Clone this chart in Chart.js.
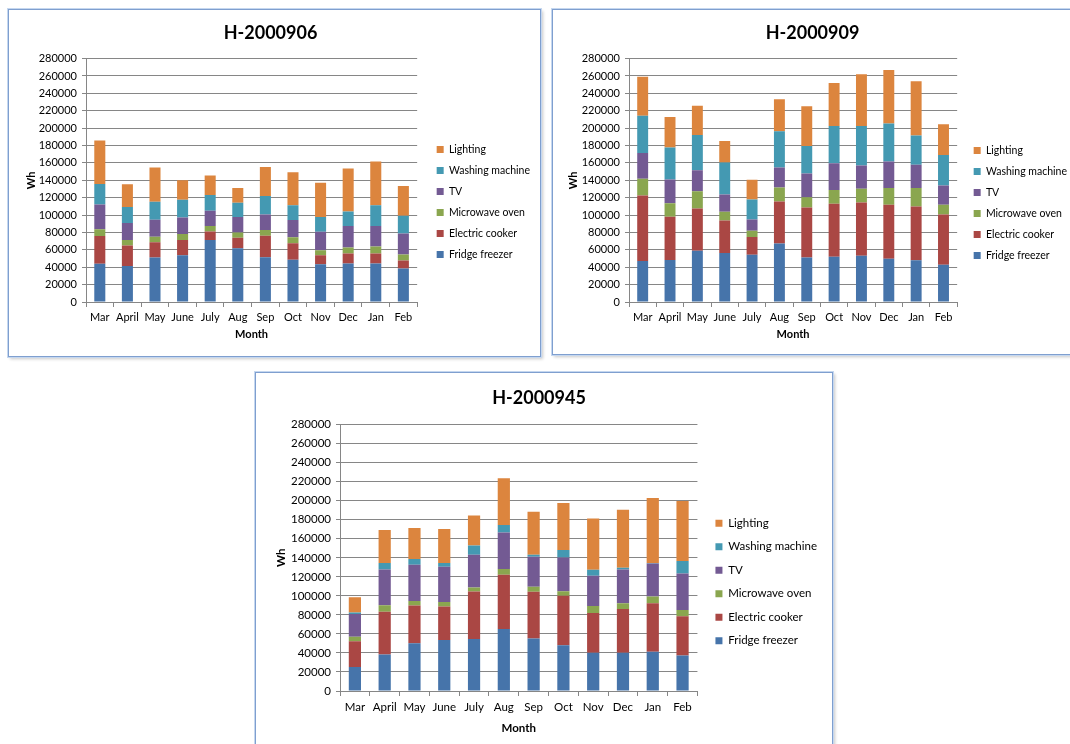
<!DOCTYPE html>
<html>
<head>
<meta charset="utf-8">
<script src="https://cdn.jsdelivr.net/npm/chart.js@4/dist/chart.umd.min.js"></script>
<style>
    body { margin: 0; background: #fff; overflow: hidden; width: 1070px; height: 744px; position: relative; }
    .panel { position: absolute; background: #fff; border: 1px solid #7f9fcf; box-shadow: 0 0 0 1px #c5d7ef, 2px 2px 3px #c8c8c8; }
    .panel canvas { position: absolute; left: 1px; top: 1px; }
</style>
</head>
<body>

<div class="panel" id="p1" style="left:8px; top:9px; width:531px; height:346px;"><canvas id="grafico-906"></canvas></div>
<div class="panel" id="p2" style="left:552px; top:9px; width:531px; height:344px;"><canvas id="grafico-909"></canvas></div>
<div class="panel" id="p3" style="left:255px; top:372px; width:576px; height:380px;"><canvas id="grafico-945"></canvas></div>

<script>
var mesi = ['Mar', 'April', 'May', 'June', 'July', 'Aug', 'Sep', 'Oct', 'Nov', 'Dec', 'Jan', 'Feb'];
var nomiSerie = ['Fridge freezer', 'Electric cooker', 'Microwave oven', 'TV', 'Washing machine', 'Lighting'];
var yTicks = [0, 20000, 40000, 60000, 80000, 100000, 120000, 140000, 160000, 180000, 200000, 220000, 240000, 260000, 280000];

// H-2000906
var fridge906 = [44000, 41500, 51200, 53800, 71200, 61900, 51500, 48500, 43500, 44200, 44200, 38500];
var cooker906 = [32000, 23500, 17600, 17400, 10000, 11900, 24700, 19200, 10300, 11600, 11600, 9200];
var microwave906 = [7700, 6200, 6200, 6900, 6100, 6200, 6500, 6900, 5800, 6900, 8000, 6900];
var tv906 = [28500, 19600, 19600, 19200, 17700, 17700, 18100, 19600, 21200, 24600, 23500, 24200];
var washing906 = [23500, 18400, 20800, 20400, 18100, 16500, 21100, 17000, 16900, 16900, 23900, 20400];
var lighting906 = [50000, 26200, 39200, 22300, 22300, 17000, 33500, 38000, 39600, 49300, 50300, 34300];

// H-2000909
var fridge909 = [47100, 48200, 59000, 56300, 54400, 67400, 51300, 52100, 53200, 49800, 47900, 42900];
var cooker909 = [75400, 49800, 48600, 37500, 20300, 48200, 57400, 60900, 61300, 62000, 62000, 57800];
var microwave909 = [19200, 15700, 19900, 10000, 7200, 16100, 11900, 15700, 15700, 19200, 21100, 11100];
var tv909 = [29800, 27200, 24100, 19900, 13100, 23000, 27200, 31000, 26800, 30600, 26800, 22200];
var washing909 = [42900, 36800, 40600, 36700, 22900, 41700, 31800, 42900, 45600, 43600, 33700, 35200];
var lighting909 = [44800, 35200, 33700, 24900, 22600, 36800, 45500, 49300, 59300, 61700, 62400, 35300];

// H-2000945
var fridge945 = [25300, 38400, 50300, 53500, 54600, 65100, 55300, 48200, 40100, 40100, 41200, 37300];
var cooker945 = [27100, 45000, 39500, 35200, 49900, 57000, 48900, 51800, 41900, 46100, 51000, 41200];
var microwave945 = [4600, 6700, 4900, 4900, 4300, 6000, 5300, 4900, 7400, 6000, 7100, 6700];
var tv945 = [24000, 37700, 38000, 37000, 34500, 38400, 31700, 35500, 31700, 35600, 34800, 38400];
var washing945 = [1400, 6700, 6000, 3900, 9500, 8100, 2100, 7800, 6300, 1700, 500, 13000];
var lighting945 = [16200, 34800, 32700, 35900, 31600, 48900, 45000, 49300, 53900, 60900, 68300, 63000];

var colori = ['#4674aa', '#aa4744', '#8aa64f', '#735a93', '#4499b2', '#dc853e'];
var font = 'Lato, "Open Sans", sans-serif';

// sposta la legenda dopo il layout (come in Excel, un po' piu' in basso e a destra)
var spostaLegenda = {
    id: 'spostaLegenda',
    afterLayout: function (chart, args, opts) {
        var l = chart.legend;
        if (!l) return;
        l.left += opts.dx; l.right += opts.dx;
        l.top += opts.dy; l.bottom += opts.dy;
    }
};

function graficoBarre(id, titolo, serie, dim) {
    var canvas = document.getElementById(id);
    canvas.width = dim.w;
    canvas.height = dim.h;
    canvas.style.width = dim.w + 'px';
    canvas.style.height = dim.h + 'px';

    var datasets = serie.map(function (valori, i) {
        return {
            label: nomiSerie[i],
            data: valori,
            backgroundColor: colori[i],
            borderWidth: 0,
            barPercentage: dim.bar,
            categoryPercentage: 1
        };
    });

    return new Chart(canvas, {
        type: 'bar',
        data: { labels: mesi, datasets: datasets },
        plugins: [spostaLegenda],
        options: {
            responsive: false,
            animation: false,
            layout: { padding: { left: 0, right: dim.padRight, top: 0, bottom: 0 } },
            plugins: {
                spostaLegenda: { dx: dim.legDx, dy: dim.legDy },
                title: {
                    display: true,
                    text: titolo,
                    color: '#000',
                    font: { family: font, size: 18, weight: 'bold' },
                    padding: { top: dim.titleTop, bottom: dim.titleBottom }
                },
                legend: {
                    position: 'right',
                    reverse: true,
                    labels: {
                        boxWidth: 7,
                        boxHeight: 7,
                        padding: dim.legendGap,
                        color: '#000',
                        font: { family: font, size: dim.lfs }
                    }
                },
                tooltip: { enabled: false }
            },
            scales: {
                x: {
                    stacked: true,
                    grid: { display: true, drawOnChartArea: false, tickLength: 5, color: '#868686' },
                    border: { color: '#868686' },
                    ticks: { color: '#000', padding: 4, font: { family: font, size: dim.fs }, maxRotation: 0, autoSkip: false },
                    title: {
                        display: true, text: 'Month', color: '#000',
                        font: { family: font, size: dim.fs, weight: 'bold' },
                        padding: { top: 2, bottom: dim.monthBottom }
                    },
                    afterFit: function (scale) { scale.height = dim.xh; }
                },
                y: {
                    stacked: true,
                    min: 0,
                    max: 280000,
                    afterBuildTicks: function (scale) {
                        scale.ticks = yTicks.map(function (v) { return { value: v }; });
                    },
                    grid: { color: '#868686', tickLength: 4 },
                    border: { color: '#868686' },
                    ticks: {
                        color: '#000',
                        padding: 5,
                        font: { family: font, size: dim.fs },
                        callback: function (v) { return String(v); }
                    },
                    title: {
                        display: true, text: 'Wh', color: '#000',
                        font: { family: font, size: dim.fs, weight: 'bold' },
                        padding: { top: dim.whLeft, bottom: 0 }
                    },
                    afterFit: function (scale) { scale.width = dim.yw; }
                }
            }
        }
    });
}

graficoBarre('grafico-906', 'H-2000906',
    [fridge906, cooker906, microwave906, tv906, washing906, lighting906],
    { w: 529, h: 344, bar: 0.4, padRight: 8, titleTop: 11, titleBottom: 15, legendGap: 10.5, fs: 11, lfs: 10.5, xh: 53, monthBottom: 14, yw: 76, whLeft: 15, legDx: 9, legDy: 19 });

graficoBarre('grafico-909', 'H-2000909',
    [fridge909, cooker909, microwave909, tv909, washing909, lighting909],
    { w: 529, h: 342, bar: 0.4, padRight: 12, titleTop: 11, titleBottom: 15, legendGap: 10.5, fs: 11, lfs: 10.5, xh: 51, monthBottom: 12, yw: 75, whLeft: 13, legDx: 6, legDy: 21 });

graficoBarre('grafico-945', 'H-2000945',
    [fridge945, cooker945, microwave945, tv945, washing945, lighting945],
    { w: 574, h: 378, bar: 0.41, padRight: 10, titleTop: 13, titleBottom: 16, legendGap: 12, fs: 11.5, lfs: 11.5, xh: 61, monthBottom: 17, yw: 83, whLeft: 17, legDx: 6, legDy: 19 });
</script>
</body>
</html>
